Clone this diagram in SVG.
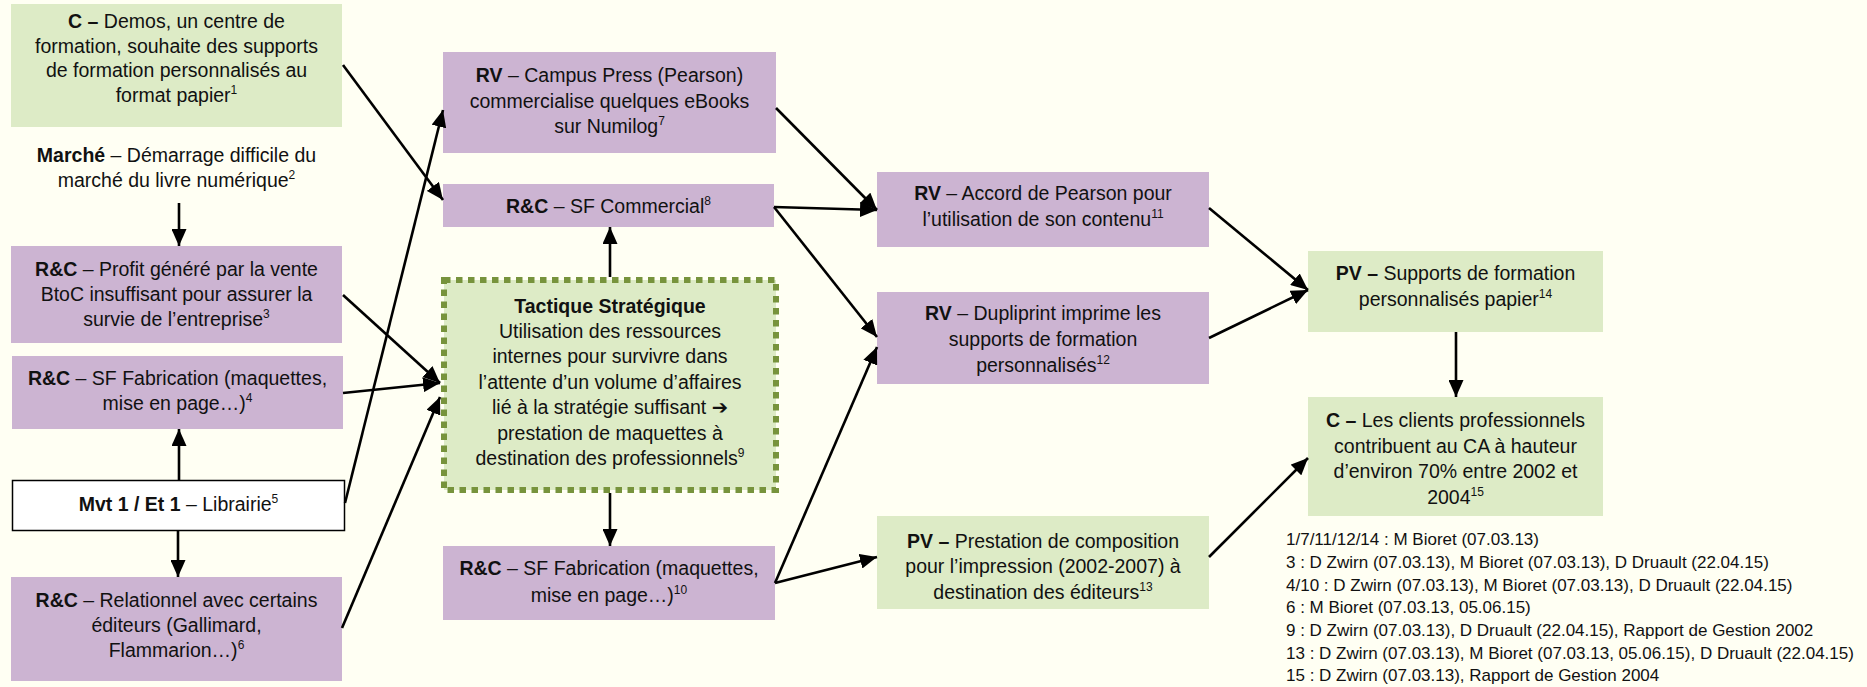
<svg xmlns="http://www.w3.org/2000/svg" width="1867" height="687" viewBox="0 0 1867 687">
<defs>
<style>
.t{font-family:"Liberation Sans","DejaVu Sans",sans-serif;font-size:19.5px;fill:#111;text-anchor:middle}
.b{font-weight:bold}
.s{font-size:12px}
.n{font-family:"Liberation Sans","DejaVu Sans",sans-serif;font-size:17px;fill:#111}
.pu{fill:#CCB4D2}
.gr{fill:#DDEBC6}
.c line{stroke:#000;stroke-width:2.6;marker-end:url(#ah)}
</style>
<marker id="ah" markerUnits="userSpaceOnUse" markerWidth="17" markerHeight="15" refX="17" refY="7.5" orient="auto">
<path d="M0,0 L17,7.5 L0,15 z" fill="#000"/>
</marker>
</defs>
<rect x="0" y="0" width="1867" height="687" fill="#FFFFF3"/>

<g id="n-c-demos">
<rect class="gr" x="11" y="4" width="331" height="123"/>
<text class="t" x="176.5" y="28"><tspan class="b">C –</tspan> Demos, un centre de</text>
<text class="t" x="176.5" y="52.5">formation, souhaite des supports</text>
<text class="t" x="176.5" y="77">de formation personnalisés au</text>
<text class="t" x="176.5" y="101.5">format papier<tspan class="s" dy="-8">1</tspan></text>
</g>

<g id="n-marche">
<text class="t" x="176.5" y="162"><tspan class="b">Marché</tspan> – Démarrage difficile du</text>
<text class="t" x="176.5" y="187">marché du livre numérique<tspan class="s" dy="-8">2</tspan></text>
</g>

<g id="n-profit">
<rect class="pu" x="11" y="246" width="331" height="97"/>
<text class="t" x="176.5" y="276"><tspan class="b">R&amp;C</tspan> – Profit généré par la vente</text>
<text class="t" x="176.5" y="301">BtoC insuffisant pour assurer la</text>
<text class="t" x="176.5" y="326">survie de l’entreprise<tspan class="s" dy="-8">3</tspan></text>
</g>

<g id="n-sffab1">
<rect class="pu" x="12" y="356" width="331" height="73"/>
<text class="t" x="177.5" y="385"><tspan class="b">R&amp;C</tspan> – SF Fabrication (maquettes,</text>
<text class="t" x="177.5" y="410">mise en page…)<tspan class="s" dy="-8">4</tspan></text>
</g>

<g id="n-mvt">
<rect x="12.5" y="480.5" width="332" height="50" fill="#FFFFFF" stroke="#000" stroke-width="1.5"/>
<text class="t" x="178.5" y="511"><tspan class="b">Mvt 1 / Et 1</tspan> – Librairie<tspan class="s" dy="-8">5</tspan></text>
</g>

<g id="n-relationnel">
<rect class="pu" x="11" y="577" width="331" height="104"/>
<text class="t" x="176.5" y="607"><tspan class="b">R&amp;C</tspan> – Relationnel avec certains</text>
<text class="t" x="176.5" y="632">éditeurs (Gallimard,</text>
<text class="t" x="176.5" y="657">Flammarion…)<tspan class="s" dy="-8">6</tspan></text>
</g>

<g id="n-campus">
<rect class="pu" x="443" y="52" width="333" height="101"/>
<text class="t" x="609.5" y="82"><tspan class="b">RV</tspan> – Campus Press (Pearson)</text>
<text class="t" x="609.5" y="108">commercialise quelques eBooks</text>
<text class="t" x="609.5" y="133">sur Numilog<tspan class="s" dy="-8">7</tspan></text>
</g>

<g id="n-sfcom">
<rect class="pu" x="443" y="184" width="331" height="43"/>
<text class="t" x="608.5" y="213"><tspan class="b">R&amp;C</tspan> – SF Commercial<tspan class="s" dy="-8">8</tspan></text>
</g>

<g id="n-tactique">
<rect x="444" y="280" width="332" height="210" fill="#DDEBC6" stroke="#77933C" stroke-width="6" stroke-dasharray="6.5 5.5"/>
<text class="t" x="610" y="313"><tspan class="b">Tactique Stratégique</tspan></text>
<text class="t" x="610" y="338">Utilisation des ressources</text>
<text class="t" x="610" y="363">internes pour survivre dans</text>
<text class="t" x="610" y="389">l’attente d’un volume d’affaires</text>
<text class="t" x="610" y="414">lié à la stratégie suffisant <tspan class="b">➔</tspan></text>
<text class="t" x="610" y="440">prestation de maquettes à</text>
<text class="t" x="610" y="465">destination des professionnels<tspan class="s" dy="-8">9</tspan></text>
</g>

<g id="n-sffab2">
<rect class="pu" x="443" y="546" width="332" height="74"/>
<text class="t" x="609" y="575"><tspan class="b">R&amp;C</tspan> – SF Fabrication (maquettes,</text>
<text class="t" x="609" y="602">mise en page…)<tspan class="s" dy="-8">10</tspan></text>
</g>

<g id="n-accord">
<rect class="pu" x="877" y="172" width="332" height="75"/>
<text class="t" x="1043" y="200"><tspan class="b">RV</tspan> – Accord de Pearson pour</text>
<text class="t" x="1043" y="226">l’utilisation de son contenu<tspan class="s" dy="-8">11</tspan></text>
</g>

<g id="n-dupliprint">
<rect class="pu" x="877" y="292" width="332" height="92"/>
<text class="t" x="1043" y="320"><tspan class="b">RV</tspan> – Dupliprint imprime les</text>
<text class="t" x="1043" y="346">supports de formation</text>
<text class="t" x="1043" y="372">personnalisés<tspan class="s" dy="-8">12</tspan></text>
</g>

<g id="n-prestation">
<rect class="gr" x="877" y="516" width="332" height="93"/>
<text class="t" x="1043" y="548"><tspan class="b">PV –</tspan> Prestation de composition</text>
<text class="t" x="1043" y="573">pour l’impression (2002-2007) à</text>
<text class="t" x="1043" y="599">destination des éditeurs<tspan class="s" dy="-8">13</tspan></text>
</g>

<g id="n-supports">
<rect class="gr" x="1308" y="251" width="295" height="81"/>
<text class="t" x="1455.5" y="280"><tspan class="b">PV –</tspan> Supports de formation</text>
<text class="t" x="1455.5" y="306">personnalisés papier<tspan class="s" dy="-8">14</tspan></text>
</g>

<g id="n-clients">
<rect class="gr" x="1308" y="397" width="295" height="119"/>
<text class="t" x="1455.5" y="427"><tspan class="b">C –</tspan> Les clients professionnels</text>
<text class="t" x="1455.5" y="453">contribuent au CA à hauteur</text>
<text class="t" x="1455.5" y="478">d’environ 70% entre 2002 et</text>
<text class="t" x="1455.5" y="504">2004<tspan class="s" dy="-8">15</tspan></text>
</g>

<g id="notes">
<text class="n" x="1286" y="545">1/7/11/12/14 : M Bioret (07.03.13)</text>
<text class="n" x="1286" y="568">3 : D Zwirn (07.03.13), M Bioret (07.03.13), D Druault (22.04.15)</text>
<text class="n" x="1286" y="590.5">4/10 : D Zwirn (07.03.13), M Bioret (07.03.13), D Druault (22.04.15)</text>
<text class="n" x="1286" y="613">6 : M Bioret (07.03.13, 05.06.15)</text>
<text class="n" x="1286" y="636">9 : D Zwirn (07.03.13), D Druault (22.04.15), Rapport de Gestion 2002</text>
<text class="n" x="1286" y="658.5">13 : D Zwirn (07.03.13), M Bioret (07.03.13, 05.06.15), D Druault (22.04.15)</text>
<text class="n" x="1286" y="681">15 : D Zwirn (07.03.13), Rapport de Gestion 2004</text>
</g>

<g id="connectors" class="c">
<line x1="343" y1="65" x2="443" y2="200"/>
<line x1="179" y1="203" x2="179" y2="246"/>
<line x1="345" y1="503" x2="443" y2="110"/>
<line x1="343" y1="295" x2="440" y2="383"/>
<line x1="343" y1="393" x2="440" y2="383"/>
<line x1="342" y1="628" x2="440" y2="397"/>
<line x1="179" y1="480" x2="179" y2="429"/>
<line x1="178" y1="531" x2="178" y2="577"/>
<line x1="610" y1="277" x2="610" y2="227"/>
<line x1="610" y1="493" x2="610" y2="546"/>
<line x1="776" y1="108" x2="877" y2="210"/>
<line x1="774" y1="207" x2="877" y2="210"/>
<line x1="774" y1="207" x2="877" y2="337"/>
<line x1="775" y1="583" x2="877" y2="347"/>
<line x1="775" y1="583" x2="877" y2="557"/>
<line x1="1209" y1="208" x2="1308" y2="290"/>
<line x1="1209" y1="338" x2="1308" y2="290"/>
<line x1="1456" y1="332" x2="1456" y2="397"/>
<line x1="1209" y1="557" x2="1308" y2="458"/>
</g>
</svg>
